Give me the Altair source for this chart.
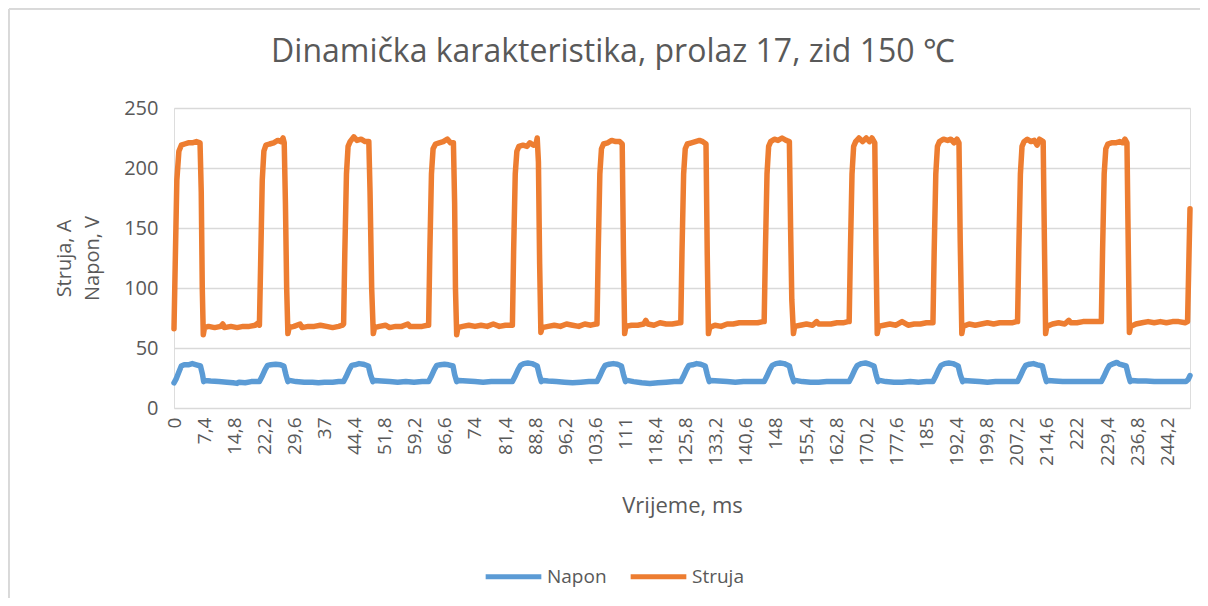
import altair as alt
import pandas as pd

TITLE = "Dinamička karakteristika, prolaz 17, zid 150 ℃"
SERIES = ["Napon", "Struja"]
COLORS = ["#5B9BD5", "#ED7D31"]
X_TICKS = [0, 7.4, 14.8, 22.2, 29.6, 37, 44.4, 51.8, 59.2, 66.6, 74, 81.4, 88.8,
           96.2, 103.6, 111, 118.4, 125.8, 133.2, 140.6, 148, 155.4, 162.8, 170.2,
           177.6, 185, 192.4, 199.8, 207.2, 214.6, 222, 229.4, 236.8, 244.2]
Y_TICKS = [0, 50, 100, 150, 200, 250]

# Struja (A): vertices, (time ms, value)
struja_t = [
    0.0, 0.3, 0.7, 1.2, 1.8, 2.6, 3.5, 4.5, 5.5, 6.4, 6.7, 6.95, 7.2, 7.5, 8.5, 10, 11.5, 12, 12.4, 14, 15.5, 17, 18.5, 20, 20.7, 21.0,
    21.3, 21.7, 22.1, 22.6, 23.5, 24.5, 25.5, 26.3, 26.8, 27.1, 27.4, 27.7, 28.0, 28.3, 29.5, 31, 31.5, 33, 34.5, 36, 37.5, 39, 40.5, 41.4, 41.7,
    42.0, 42.4, 42.8, 43.3, 44.2, 45, 46, 47, 47.9, 48.2, 48.6, 49.0, 49.3, 50.5, 52, 53, 54.5, 56, 57.5, 58, 59.5, 61, 62.3, 62.6,
    62.9, 63.3, 63.7, 64.3, 65.2, 66.2, 67.2, 68, 68.7, 69.0, 69.2, 69.5, 69.8, 71, 72.5, 74, 75.5, 77, 78.5, 80, 81.5, 82.9, 83.2,
    83.5, 83.9, 84.3, 84.8, 85.8, 86.8, 87.5, 88.4, 89.0, 89.3, 89.6, 89.9, 90.2, 90.5, 92, 93.5, 95, 96.5, 98, 99.5, 101, 102.5, 103.7, 104.0,
    104.3, 104.7, 105.1, 105.6, 106.6, 107.6, 108.6, 109.6, 110.2, 110.5, 110.8, 111.1, 112.5, 114, 115.5, 116, 116.5, 118, 119.5, 121, 122.5, 124.3, 124.6,
    124.9, 125.3, 125.7, 126.2, 127.2, 128.2, 129.2, 130.0, 130.8, 131.1, 131.4, 131.7, 133, 134.5, 136, 137.5, 139, 140.5, 142, 143.5, 144.8, 145.1,
    145.4, 145.8, 146.2, 146.7, 147.6, 148.5, 149.5, 150.5, 151.3, 151.6, 151.9, 152.3, 152.6, 154, 155.5, 157, 158, 158.5, 160, 161.5, 163, 164.5, 165.7, 166.0,
    166.3, 166.7, 167.1, 167.6, 168.4, 169.3, 170.2, 171.0, 171.6, 172.3, 172.6, 172.9, 173.2, 174.5, 176, 177.5, 179, 180.5, 182, 183.5, 185, 186.3, 186.6,
    186.9, 187.3, 187.7, 188.2, 189.2, 190.2, 191.0, 191.8, 192.5, 193.0, 193.3, 193.7, 194.0, 195.5, 197, 198.5, 200, 201.5, 203, 204.5, 206, 207.1, 207.4,
    207.7, 208.1, 208.5, 209.0, 209.8, 210.7, 211.5, 212.2, 212.8, 213.7, 214.0, 214.3, 214.6, 216, 217.5, 219, 220, 220.5, 222, 223.5, 225, 226.5, 227.7, 228.0,
    228.3, 228.7, 229.1, 229.6, 230.5, 231.5, 232.5, 233.3, 233.8, 234.3, 234.6, 234.9, 235.2, 236.5, 238, 239.5, 241, 242.5, 244, 245.5, 247, 248.6, 249.2, 249.8,
]
struja_v = [
    66, 120, 190, 214, 219, 220, 221, 221, 222, 221, 180, 100, 61, 67, 68, 67, 68, 70, 67, 68, 67, 68, 68, 69, 71, 69,
    120, 190, 214, 219, 220, 221, 223, 222, 225, 221, 170, 100, 62, 67, 68, 70, 67, 68, 68, 69, 68, 67, 68, 69, 70,
    130, 195, 218, 222, 226, 223, 224, 222, 222, 180, 100, 62, 67, 68, 69, 67, 68, 68, 70, 68, 68, 68, 69, 69,
    130, 195, 216, 220, 221, 222, 224, 221, 221, 170, 100, 61, 67, 68, 69, 68, 69, 68, 70, 68, 69, 69, 69,
    130, 195, 214, 218, 219, 218, 221, 219, 220, 225, 205, 120, 63, 67, 68, 69, 68, 70, 69, 68, 70, 69, 70, 70,
    130, 195, 216, 220, 221, 223, 222, 222, 220, 130, 62, 68, 69, 69, 70, 73, 70, 69, 71, 70, 70, 71, 71,
    130, 195, 216, 220, 221, 222, 223, 222, 220, 130, 62, 67, 69, 68, 70, 70, 71, 71, 71, 71, 72, 72,
    130, 195, 218, 222, 224, 223, 225, 223, 222, 150, 90, 62, 68, 69, 70, 69, 72, 70, 70, 70, 71, 71, 72, 72,
    130, 195, 218, 222, 225, 222, 225, 222, 225, 221, 130, 62, 68, 69, 70, 69, 72, 69, 70, 70, 71, 71, 71,
    130, 195, 218, 222, 224, 223, 224, 221, 224, 221, 140, 62, 68, 70, 69, 70, 71, 70, 71, 71, 71, 72, 72,
    130, 195, 218, 222, 224, 222, 223, 219, 224, 222, 140, 62, 68, 70, 71, 70, 73, 71, 71, 72, 72, 72, 72, 72,
    130, 195, 216, 220, 221, 221, 222, 221, 224, 221, 140, 63, 68, 70, 71, 72, 71, 72, 71, 72, 72, 71, 72, 166,
]

# Napon (V): vertices, (time ms, value)
napon_t = [
    0, 0.5, 1.2, 1.8, 2.5, 3.5, 4.5, 5.5, 6.5, 7.0, 7.3, 7.6, 9, 11, 13, 14.5, 15.5, 16, 17.5, 19, 20.5, 21.0,
    21.6, 22.4, 23.0, 23.8, 25, 26.2, 27.0, 27.5, 28.0, 28.4, 30, 32, 34, 35.5, 37, 39, 40.5, 41.7,
    42.3, 43.1, 43.7, 44.5, 45.5, 46.5, 47.8, 48.3, 48.9, 49.3, 51, 53, 55, 57, 59, 61, 62.6,
    63.2, 64.0, 64.6, 65.5, 66.5, 67.5, 68.6, 69.0, 69.5, 70, 72, 74, 76, 78, 80, 82, 83.2,
    83.8, 84.6, 85.2, 86, 87, 88, 89.3, 89.8, 90.3, 90.7, 92, 94, 96, 98, 100, 102, 104,
    104.6, 105.4, 106, 107, 108, 109, 110, 110.5, 111, 111.4, 113, 115, 117, 119, 121, 123, 124.6,
    125.2, 126, 126.6, 127.5, 128.5, 129.5, 130.6, 131.1, 131.6, 132, 134, 136, 138, 140, 142, 144, 145.1,
    145.7, 146.5, 147.1, 148, 149, 150, 151.3, 151.8, 152.4, 152.8, 154.5, 156.5, 158.5, 160.5, 162.5, 164.5, 166,
    166.6, 167.4, 168, 169, 170, 171, 172.1, 172.6, 173.1, 173.5, 175, 177, 179, 181, 183, 185, 186.6,
    187.2, 188, 188.6, 189.5, 190.5, 191.5, 192.8, 193.3, 193.9, 194.3, 196, 198, 200, 202, 204, 206, 207.4,
    208, 208.8, 209.4, 210.3, 211.3, 212.3, 213.5, 214, 214.5, 214.9, 216.5, 218.5, 220.5, 222.5, 224.5, 226.5, 228,
    228.6, 229.4, 230, 231, 231.8, 232.5, 234.1, 234.6, 235.1, 235.5, 237, 239, 241, 243, 245, 247, 248.8, 249.4, 249.8,
]
napon_v = [
    21, 24, 30, 35, 36, 36, 37, 36, 35, 28, 22, 23, 22.5, 22, 21.5, 21, 20.5, 21.5, 21, 22, 22, 22,
    26, 32, 35.5, 36, 36.5, 36, 35, 28, 22, 23, 22, 21.5, 21.5, 21, 21.5, 21.5, 22, 22,
    26, 32, 35.5, 36, 37, 36.5, 35, 28, 22, 23, 22.5, 22, 21.5, 22, 21.5, 22, 22,
    26, 32, 35.5, 36, 36.5, 36, 35, 28, 22, 23, 22.5, 22, 21.5, 22, 22, 22, 22,
    26, 32, 35.5, 37, 37.5, 37, 35, 28, 22, 23, 22.5, 22, 21.5, 21, 21.5, 22, 22,
    26, 32, 35.5, 36.5, 37, 36.5, 35, 28, 22, 23, 22, 21, 20.5, 21, 21.5, 22, 22,
    26, 32, 35.5, 36, 37, 36.5, 35, 28, 22, 23, 22.5, 22, 21.5, 22, 22, 22, 22,
    26, 32, 35.5, 37, 37.5, 37, 35, 28, 22, 23, 22, 21.5, 21.5, 22, 22, 22, 22,
    26, 32, 35.5, 37, 37.5, 36.5, 35, 28, 22, 23, 22, 21.5, 21.5, 22, 21.5, 22, 22,
    26, 32, 35.5, 37, 37.5, 37, 35, 28, 22, 23, 22.5, 22, 21.5, 22, 22, 22, 22,
    26, 32, 35.5, 36.5, 37, 36, 35, 28, 22, 23, 22.5, 22, 22, 22, 22, 22, 22,
    26, 32, 35.5, 37, 38, 36.5, 35, 28, 22, 23, 22.5, 22.5, 22, 22, 22, 22, 22, 24, 27,
]

df = pd.concat([
    pd.DataFrame({"t": napon_t, "v": napon_v, "serija": "Napon"}),
    pd.DataFrame({"t": struja_t, "v": struja_v, "serija": "Struja"}),
], ignore_index=True)

FONT = "Open Sans"
TXT = "#595959"
GRID = "#D9D9D9"

lines = alt.Chart(df).mark_line(strokeWidth=5.5, strokeJoin="round", strokeCap="round").encode(
    x=alt.X("t:Q",
            scale=alt.Scale(domain=[0, 249.8], nice=False, zero=False),
            axis=alt.Axis(values=X_TICKS, labelAngle=-90, grid=False, domain=False, ticks=False,
                          labelExpr="replace(format(datum.value, '.1~f'), '.', ',')",
                          labelFontSize=19, labelColor=TXT, labelFont=FONT, labelPadding=9,
                          labelOverlap=False, labelFlush=False,
                          title="Vrijeme, ms", titleFontSize=22, titleColor=TXT, titleFont=FONT,
                          titleFontWeight="normal", titleY=97, titleBaseline="middle")),
    y=alt.Y("v:Q",
            scale=alt.Scale(domain=[0, 250], nice=False),
            axis=alt.Axis(values=Y_TICKS, grid=True, gridColor=GRID, gridWidth=1.3, domain=False, ticks=False,
                          labelFontSize=20, labelColor=TXT, labelFont=FONT, labelPadding=16,
                          title=["Struja, A", "Napon, V"], titleFontSize=20, titleColor=TXT, titleFont=FONT,
                          titleFontWeight="normal", titleAngle=270, titleBaseline="middle",
                          titleX=-110, titleY=150, titleLineHeight=28)),
    color=alt.Color("serija:N", scale=alt.Scale(domain=SERIES, range=COLORS),
                    legend=alt.Legend(title=None, orient="none", legendX=309, legendY=438,
                                      direction="horizontal", symbolType="stroke",
                                      symbolStrokeWidth=5, symbolSize=3100,
                                      labelFontSize=19, labelColor=TXT, labelFont=FONT,
                                      columnPadding=13, labelOffset=3)),
)

frame_top = alt.Chart(df).mark_rule(color=GRID, strokeWidth=1).encode(
    x=alt.value(-165), x2=alt.value(1030), y=alt.value(-99))
frame_left = alt.Chart(df).mark_rule(color=GRID, strokeWidth=1).encode(
    x=alt.value(-165), y=alt.value(-99), y2=alt.value(500))

chart = alt.layer(frame_top, frame_left, lines).properties(
    width=1016, height=300,
    title=alt.TitleParams(TITLE, fontSize=32, color=TXT, font=FONT, fontWeight="normal",
                          anchor="middle", dx=-69, dy=88, offset=28),
    autosize=alt.AutoSizeParams(type="none"),
    padding={"left": 166, "top": 100, "right": 10, "bottom": 190},
).configure_view(stroke="transparent", strokeWidth=0).configure(background="white")

chart.save("out.html", embed_options={"renderer": "svg", "actions": False})
